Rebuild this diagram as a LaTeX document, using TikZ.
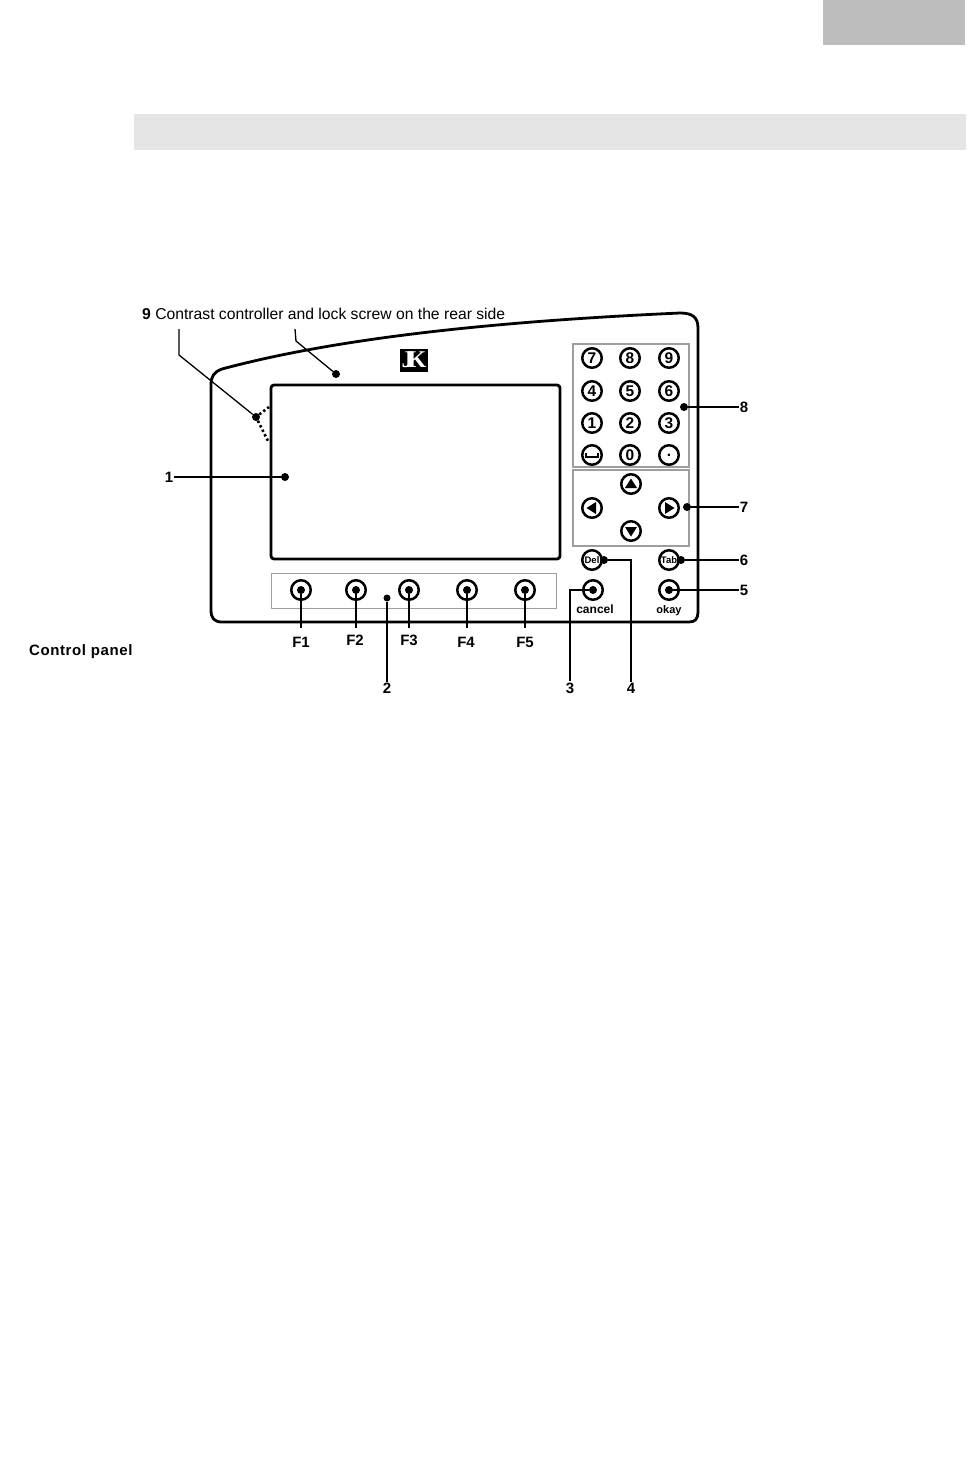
\documentclass[tikz,border=0pt]{standalone}
\usepackage{fontspec}
\setmainfont{Liberation Sans}
\newfontfamily\logofont{Liberation Serif}
\begin{document}
\begin{tikzpicture}[x=1pt,y=-1pt,
  band/.style={fill=black!10,draw=none},
  pane/.style={draw=black!38,line width=1.6pt},
  keyc/.style={circle,draw=black,line width=2.5pt,minimum size=19.5pt,inner sep=0pt,fill=white,font=\fontsize{15.5}{15.5}\selectfont\bfseries},
  smallkey/.style={keyc,font=\fontsize{9.5}{10}\selectfont\bfseries},
  dotn/.style={circle,fill=black,inner sep=0pt,minimum size=8pt},
  lead/.style={line width=1.3pt,black},
  num/.style={inner sep=1pt,font=\fontsize{15}{17}\selectfont\bfseries},
  capt/.style={inner sep=0pt,font=\fontsize{11}{12}\selectfont\bfseries},
  fcap/.style={inner sep=0pt,font=\fontsize{15}{17}\selectfont\bfseries},
  txt/.style={inner sep=0pt,anchor=west,font=\fontsize{15.7}{18}\selectfont},
  dotted9/.style={line width=2.6pt,dash pattern=on 2.4pt off 2.6pt,black}]
\useasboundingbox (0,0) rectangle (967,1462);
\fill[white] (0,0) rectangle (967,1462);
\fill[black!26] (823,0) rectangle (965,45);
\fill[band] (134,114) rectangle (966,150);

% housing
\draw[line width=2.8pt,line join=round] (211,385) .. controls (211,376) and (214,372) .. (222,369)
  .. controls (330,340) and (480,322) .. (680,313)
  .. controls (692,313) and (698,317) .. (698,328) -- (698,612)
  .. controls (698,619) and (695,622) .. (689,622) -- (222,622)
  .. controls (214,622) and (211,618) .. (211,610) -- cycle;
\draw[line width=2.8pt,rounded corners=3pt] (271,385) rectangle (560,559);

% panes
\draw[pane] (573,344) rectangle (689,467);
\draw[pane] (573,470) rectangle (689,546);
\draw[pane,line width=1pt] (271,573) rectangle (556,608);

% logo
\node[fill=black,text=white,minimum width=28pt,minimum height=23pt,inner sep=0pt,font=\logofont\fontsize{24}{24}\selectfont\bfseries] (logo) at (414,360) {J\kern-6pt K};

% number keys
\node[keyc] (k7) at (592,358) {7};
\node[keyc] (k8) at (630,358) {8};
\node[keyc] (k9) at (669,358) {9};
\node[keyc] (k4) at (592,391) {4};
\node[keyc] (k5) at (630,391) {5};
\node[keyc] (k6) at (669,391) {6};
\node[keyc] (k1) at (592,423) {1};
\node[keyc] (k2) at (630,423) {2};
\node[keyc] (k3) at (669,423) {3};
\node[keyc] (kr) at (592,455) {};
\node[keyc] (k0) at (630,455) {0};
\node[keyc] (kp) at (669,455) {.};
\draw[line width=2.2pt,shift={(kr)}] (-6,-2.5) -- (-6,2) -- (6,2) -- (6,-2.5);

% arrow keys
\node[keyc] (au) at (631,484) {};
\node[keyc] (al) at (592,508) {};
\node[keyc] (ar) at (669,508) {};
\node[keyc] (ad) at (631,531) {};
\fill[shift={(au)}] (-6,4) -- (6,4) -- (0,-5.5) -- cycle;
\fill[shift={(ad)}] (-6,-4) -- (6,-4) -- (0,5.5) -- cycle;
\fill[shift={(al)}] (4,-6) -- (4,6) -- (-5.5,0) -- cycle;
\fill[shift={(ar)}] (-4,-6) -- (-4,6) -- (5.5,0) -- cycle;

% lower keys
\node[smallkey] (kdel) at (592,560) {Del};
\node[smallkey] (ktab) at (669,560) {Tab};
\node[keyc] (kcan) at (593,590) {};
\node[keyc] (kok) at (669,590) {};
\node[capt,font=\fontsize{12}{13}\selectfont\bfseries] (tcan) at (595,609) {cancel};
\node[capt] (tok) at (669,610.5) {okay};

% function keys
\node[keyc] (f1) at (301,590) {};
\node[keyc] (f2) at (356,590) {};
\node[keyc] (f3) at (409,590) {};
\node[keyc] (f4) at (467,590) {};
\node[keyc] (f5) at (525,590) {};
\node[fcap] (lf1) at (301,642) {F1};
\node[fcap] (lf2) at (355,640) {F2};
\node[fcap] (lf3) at (409,640) {F3};
\node[fcap] (lf4) at (466,642) {F4};
\node[fcap] (lf5) at (525,642) {F5};
\foreach \k/\p in {f1/301,f2/356,f3/409,f4/467,f5/525}{
  \node[dotn] (d\k) at (\k) {};
  \coordinate (e\k) at (\p,628);
  \draw[lead] (d\k) -- (e\k);
}

% callout labels
\node[num] (l1) at (169,477) {1};
\node[num] (l2) at (387,688) {2};
\node[num] (l3) at (570,688) {3};
\node[num] (l4) at (631,688) {4};
\node[num] (l5) at (744,590) {5};
\node[num] (l6) at (744,560) {6};
\node[num] (l7) at (744,507) {7};
\node[num] (l8) at (744,407) {8};

\node[dotn] (d1) at (285,477) {};
\node[dotn,minimum size=7pt] (d2) at (387,598) {};
\node[dotn] (d3) at (kcan) {};
\node[dotn] (d4) at (604,560) {};
\node[dotn] (d5) at (kok) {};
\node[dotn] (d6) at (681,560) {};
\node[dotn] (d7) at (687,507) {};
\node[dotn] (d8) at (684,407) {};
\node[dotn] (d9a) at (256,417) {};
\node[dotn] (d9b) at (336,374) {};

\draw[lead] (l1) -- (d1);
\draw[lead] (l2) -- (d2);
\draw[lead] (l3.north) |- (d3);
\draw[lead] (l4.north) |- (d4);
\draw[lead] (l5) -- (d5);
\draw[lead] (l6) -- (d6);
\draw[lead] (l7) -- (d7);
\draw[lead] (l8) -- (d8);

% item 9
\node[txt] (l9) at (142,314) {\textbf{9} Contrast controller and lock screw on the rear side};
\coordinate (a9) at (179,329);
\coordinate (b9) at (179,355);
\coordinate (a9r) at (295,329);
\coordinate (b9r) at (296,341);
\draw[lead] (a9) -- (b9) -- (d9a);
\draw[lead] (a9r) -- (b9r) -- (d9b);
\coordinate (t9a) at (269,407);
\coordinate (t9b) at (268,441);
\draw[dotted9] (d9a) -- (t9a);
\draw[dotted9] (d9a) -- (t9b);

\node[inner sep=0pt,anchor=west,font=\fontsize{15}{16}\selectfont\bfseries\addfontfeature{LetterSpace=4}] (cp) at (29,652) {Control panel};
\end{tikzpicture}
\end{document}
